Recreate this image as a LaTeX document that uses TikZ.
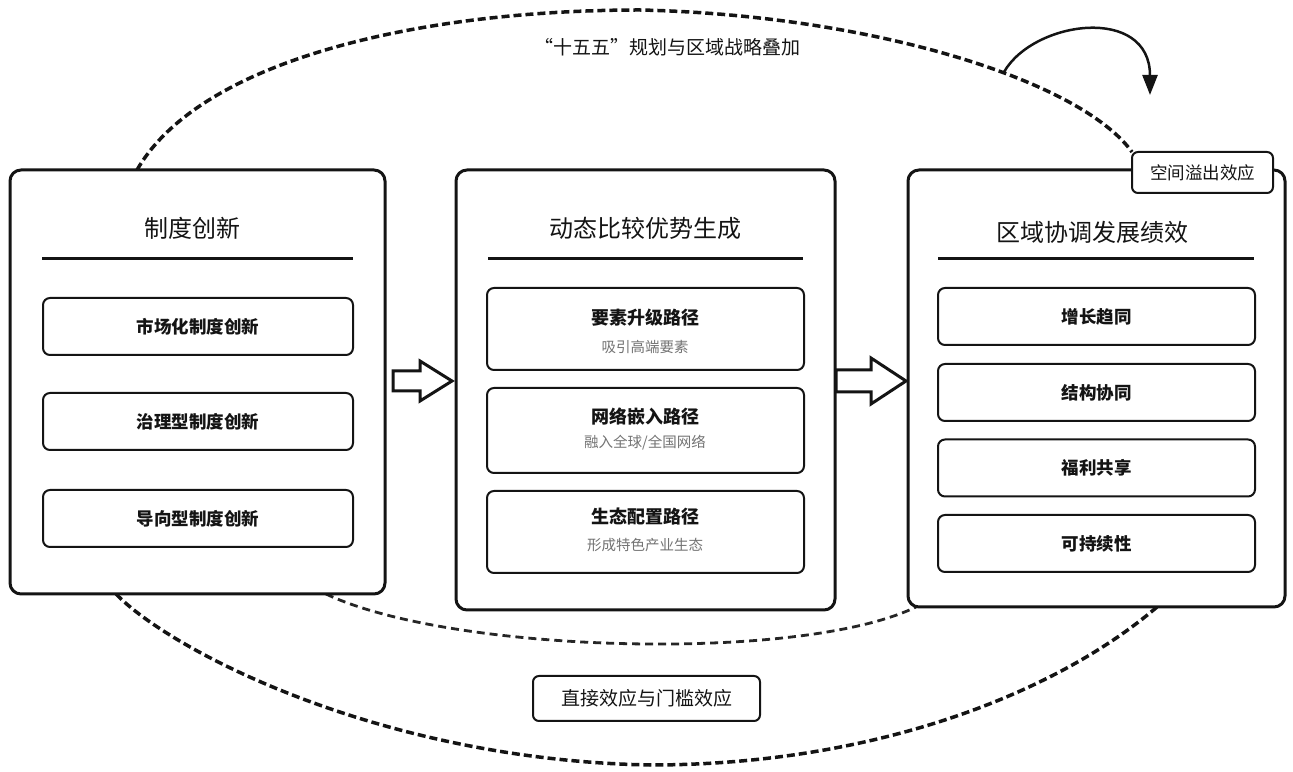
\documentclass[tikz,border=0pt]{standalone}
\usepackage{fontspec}
\setmainfont{Noto Sans CJK SC}
\usetikzlibrary{shapes, backgrounds, arrows.meta, positioning, calc}

\newcommand{\blockArrow}[5]{%
\path[draw=drawColor,line width=3pt,line join=miter,fill=white] ($(#1)+(0,#4)$) --
	($(#2)+(-#3,#4)$) -- ($(#2)+(-#3,#5)$) -- (#2) -- ($(#2)+(-#3,-#5)$) --
	($(#2)+(-#3,-#4)$) -- ($(#1)+(0,-#4)$) -- cycle;}

\begin{document}
\begin{tikzpicture}[x=1pt,y=1pt,
  panel/.style={draw=drawColor,line width=3pt,rounded corners=11pt,fill=white,inner sep=0pt,outer sep=0pt},
  itembox/.style={draw=drawColor,line width=2pt,rounded corners=7pt,fill=white,inner sep=0pt,outer sep=0pt,
    text=drawColor,font=\fontsize{17.5}{20}\selectfont\bfseries},
  tagbox/.style={draw=drawColor,line width=2pt,rounded corners=6pt,fill=white,inner sep=0pt,outer sep=0pt,text=drawColor},
  heading/.style={text=drawColor,inner sep=0pt,font=\fontsize{24}{28}\selectfont},
  pathname/.style={text=drawColor,inner sep=0pt,font=\fontsize{18}{20}\selectfont\bfseries},
  pathnote/.style={text=subColor,inner sep=0pt,font=\fontsize{14.5}{17}\selectfont},
  rule/.style={draw=drawColor,line width=3pt}]
\definecolor[named]{drawColor}{rgb}{0.08,0.08,0.08}
\definecolor[named]{subColor}{rgb}{0.45,0.45,0.45}
\definecolor[named]{dashColor}{rgb}{0.15,0.15,0.15}
\path[use as bounding box,fill=white,fill opacity=0.00] (0,0) rectangle (1293,771);

\node[panel,minimum width=375pt,minimum height=424pt] (inst) at (197.5,389) {};
\node[panel,minimum width=379pt,minimum height=440pt] (dyn) at (645.5,381) {};
\node[panel,minimum width=377pt,minimum height=437pt] (res) at (1096.5,382.5) {};

\node[heading] (instT) at (192,543) {制度创新};
\node[heading] (dynT) at (645,543) {动态比较优势生成};
\node[heading] (resT) at (1092,539) {区域协调发展绩效};

\path[rule] (42,512) -- (353,512);
\path[rule] (488,512) -- (803,512);
\path[rule] (938,512) -- (1254,512);

\node[itembox,minimum width=310pt,minimum height=57pt] (inst1) at (198,444.5) {市场化制度创新};
\node[itembox,minimum width=310pt,minimum height=57pt] (inst2) at (198,349.5) {治理型制度创新};
\node[itembox,minimum width=310pt,minimum height=57pt] (inst3) at (198,252.5) {导向型制度创新};

\node[itembox,minimum width=317pt,minimum height=82pt] (dyn1) at (645.5,442) {};
\node[itembox,minimum width=317pt,minimum height=85pt] (dyn2) at (645.5,340.5) {};
\node[itembox,minimum width=317pt,minimum height=82pt] (dyn3) at (645.5,239) {};
\node[pathname] (dyn1a) at (645,453) {要素升级路径};
\node[pathnote] (dyn1b) at (645,424) {吸引高端要素};
\node[pathname] (dyn2a) at (645,354) {网络嵌入路径};
\node[pathnote] (dyn2b) at (645,328) {融入全球/全国网络};
\node[pathname] (dyn3a) at (645,254) {生态配置路径};
\node[pathnote] (dyn3b) at (645,226) {形成特色产业生态};

\node[itembox,minimum width=317pt,minimum height=57pt] (res1) at (1096.5,454.5) {增长趋同};
\node[itembox,minimum width=317pt,minimum height=57pt] (res2) at (1096.5,378.5) {结构协同};
\node[itembox,minimum width=317pt,minimum height=57pt] (res3) at (1096.5,303) {福利共享};
\node[itembox,minimum width=317pt,minimum height=57pt] (res4) at (1096.5,227.5) {可持续性};

\node[tagbox,minimum width=141pt,minimum height=41pt,font=\fontsize{17.5}{20}\selectfont] (spill) at (1202.5,598.5) {空间溢出效应};
\node[tagbox,minimum width=227pt,minimum height=45pt,font=\fontsize{19}{22}\selectfont] (thresh) at (646.5,72.5) {直接效应与门槛效应};
\node[text=drawColor,inner sep=0pt,font=\fontsize{19}{22}\selectfont] (plan) at (667,724) {“十五五”规划与区域战略叠加};

\coordinate (a1t) at ($(inst.east)+(8,1)$);
\coordinate (a1h) at ($(dyn.west)+(-4,9)$);
\coordinate (a2t) at ($(dyn.east)+(1,9)$);
\coordinate (a2h) at ($(res.west)+(-2,7.5)$);
\blockArrow{a1t}{a1h}{32}{10}{20}
\blockArrow{a2t}{a2h}{35}{11}{23}

\begin{scope}[on background layer]
\path[draw=drawColor,line width=3.5pt,dash pattern=on 8pt off 4pt] ($(inst.north west)+(127,0)$) ..
	controls (200,711) and (420,761) .. (640,761) ..
	controls (870,756) and (1080,691) .. (spill.north west);

\path[draw=drawColor,line width=3.5pt,dash pattern=on 8pt off 4pt] ($(inst.south west)+(106,0)$) ..
	controls (170,121) and (380,11) .. (650,6) ..
	controls (880,6) and (1060,81) .. ($(res.south west)+(249,0)$);

\path[draw=dashColor,line width=2.8pt,dash pattern=on 8pt off 5pt] ($(inst.south west)+(316,0)$) ..
	controls (450,118) and (800,108) .. ($(res.south west)+(8,0)$);
\end{scope}

\coordinate (loopA) at (1004,699);
\coordinate (loopB) at (1150,676);
\path[draw=drawColor,line width=2.5pt,-{Triangle[length=20pt,width=15pt]}] (loopA) ..
	controls (1034,751) and (1150,766) .. (loopB);
\end{tikzpicture}
\end{document}
